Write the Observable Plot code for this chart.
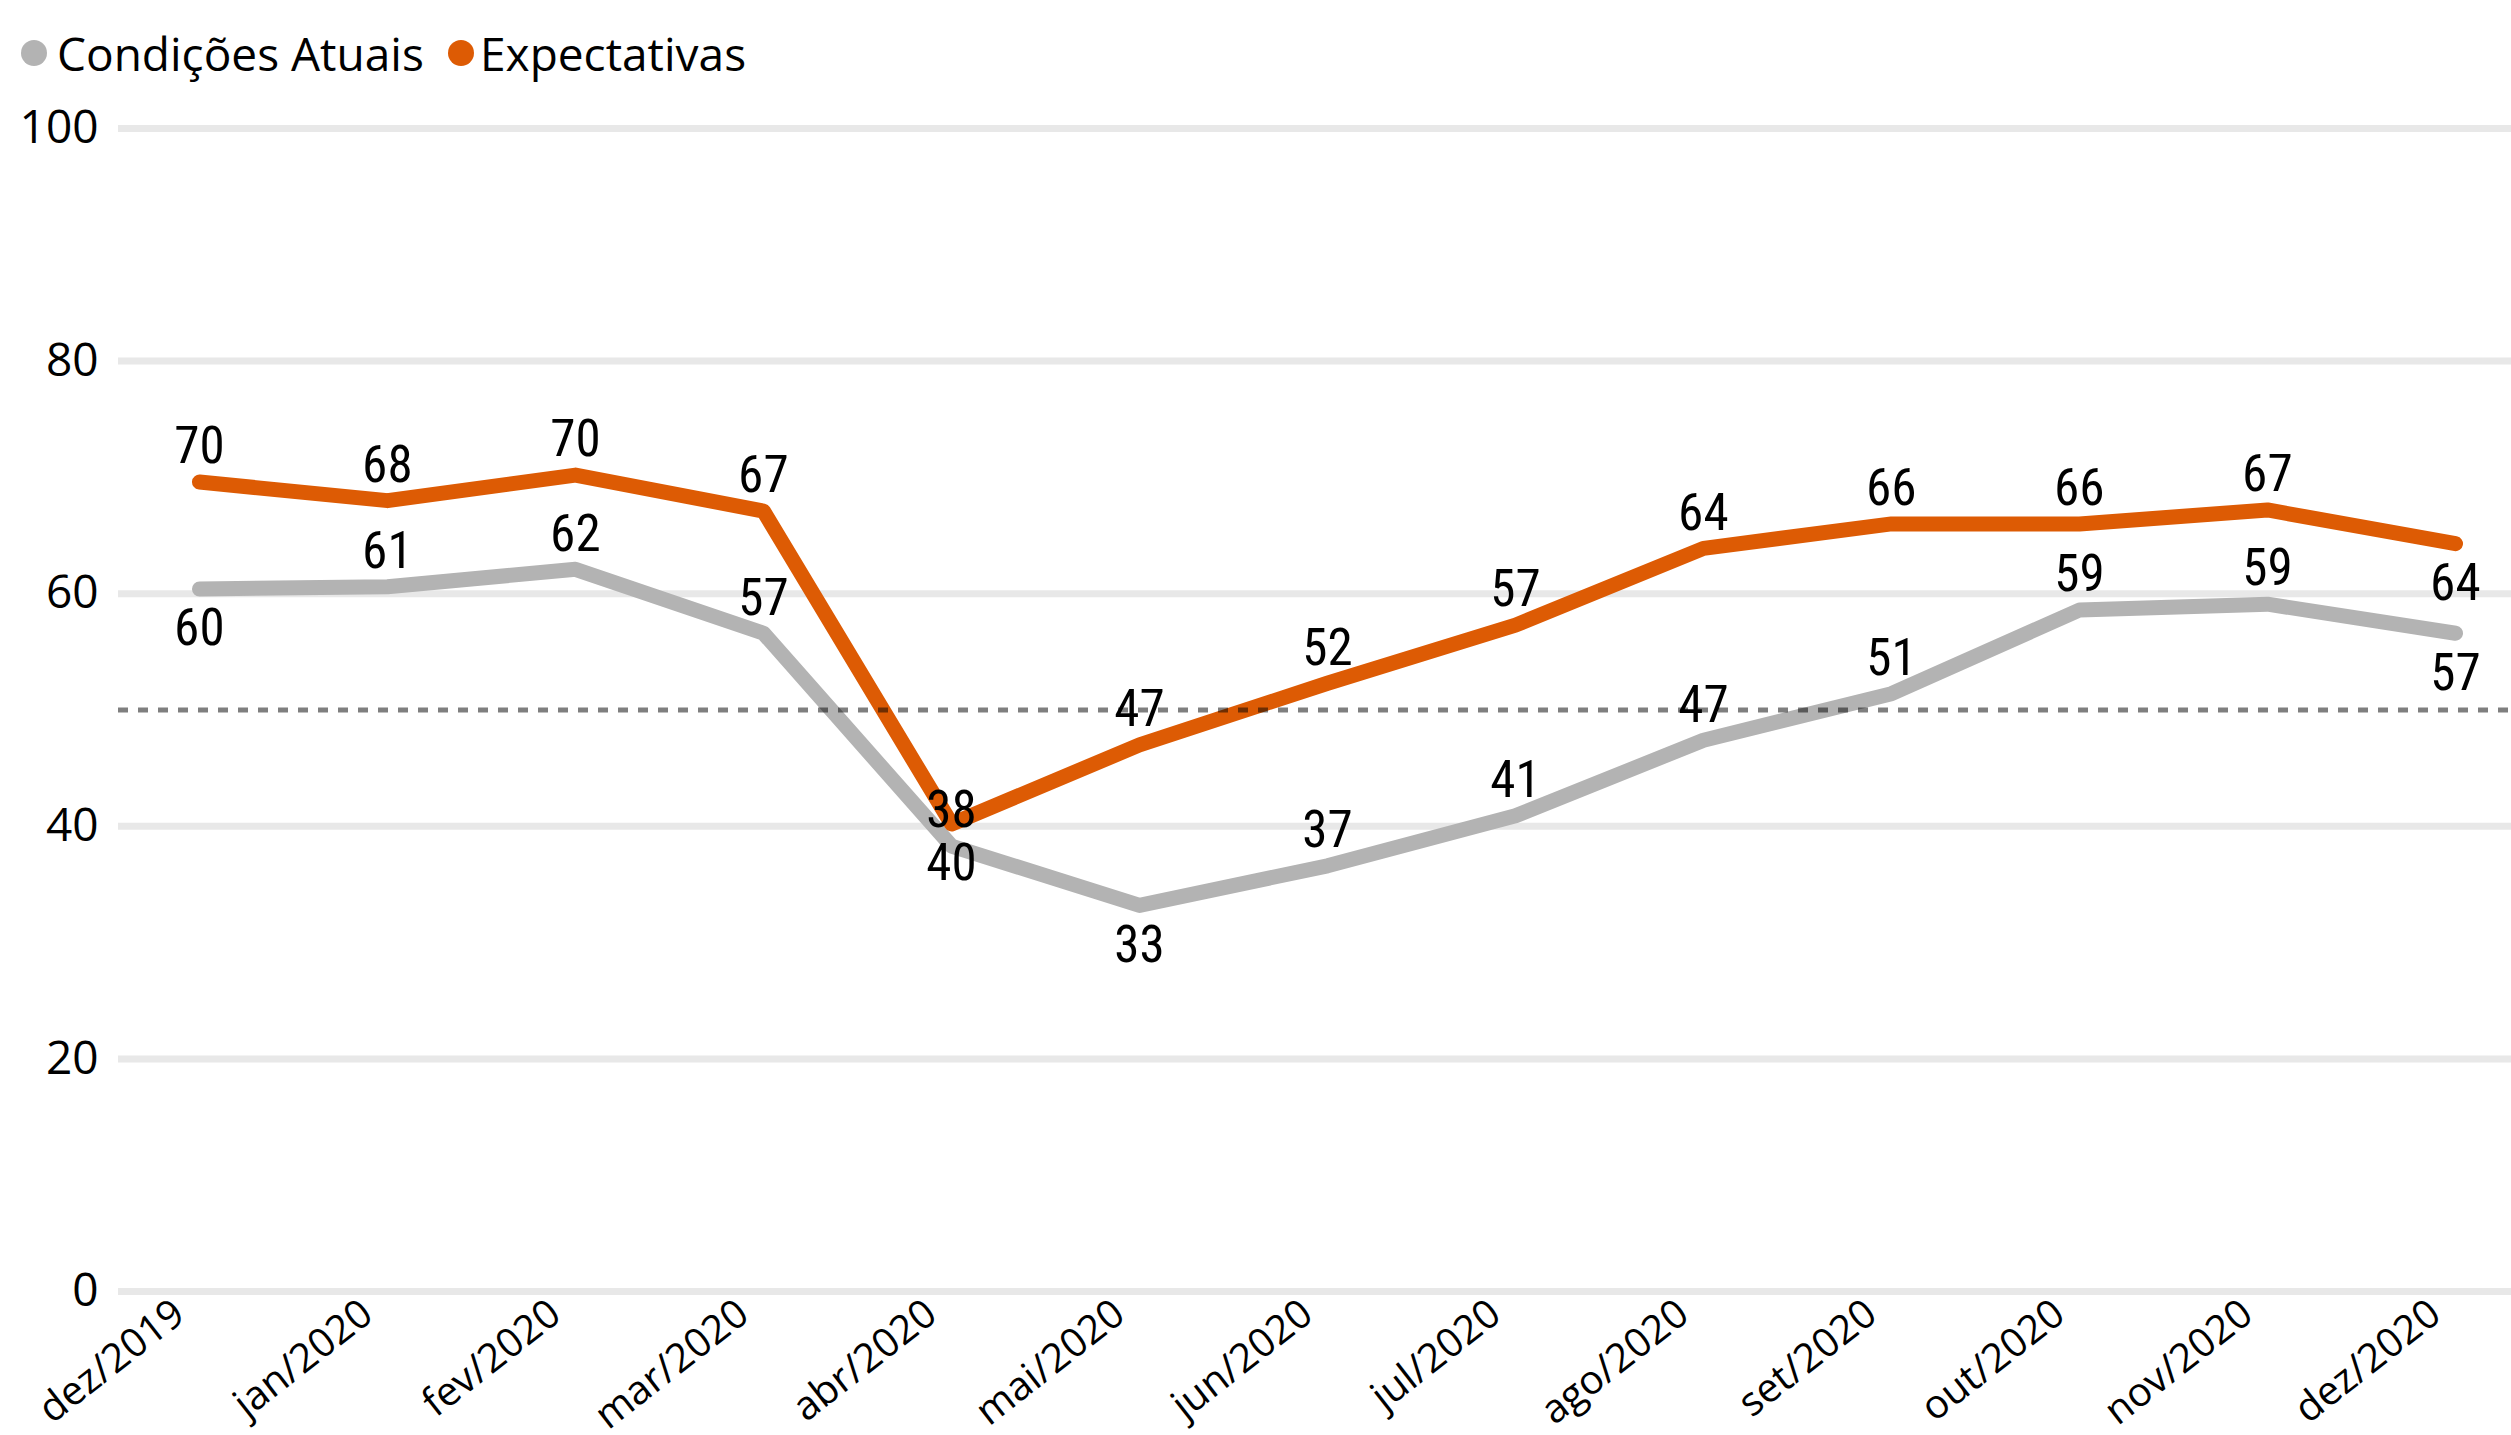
<!DOCTYPE html>
<html>
<head>
<meta charset="utf-8">
<script src="https://cdn.jsdelivr.net/npm/d3@7"></script>
<script src="https://cdn.jsdelivr.net/npm/@observablehq/plot@0.6"></script>
<style>
  html, body { margin: 0; padding: 0; background: #fff; }
  body { width: 2511px; height: 1435px; overflow: hidden; }
  #legend { position: relative; height: 95px; font-family: "Open Sans", sans-serif; font-size: 46px; color: #000; }
  #legend .sw { position: absolute; width: 26px; height: 26px; border-radius: 50%; top: 40px; }
  #legend .lb { position: absolute; top: 20px; line-height: 66px; white-space: nowrap; }
  #chart svg { display: block; overflow: visible; }
</style>
</head>
<body>
<div id="legend"></div>
<div id="chart"></div>
<script>
// ---- data ----
const months = ["dez/2019","jan/2020","fev/2020","mar/2020","abr/2020","mai/2020","jun/2020","jul/2020","ago/2020","set/2020","out/2020","nov/2020","dez/2020"];
const seriesNames = ["Condições Atuais", "Expectativas"];
const condicoes = [60.4, 60.6, 62.1, 56.6, 38.3, 33.2, 36.6, 40.9, 47.4, 51.4, 58.6, 59.1, 56.6];
const expectativas = [69.6, 68.0, 70.2, 67.1, 40.2, 47.0, 52.3, 57.3, 63.9, 66.0, 66.0, 67.2, 64.3];
const yTicks = [0, 20, 40, 60, 80, 100];
const neutral = [50];
// months whose data label sits below the point (label placement)
const condLabelBelow = ["dez/2019", "mai/2020", "dez/2020"];
const expLabelBelow = ["abr/2020", "dez/2020"];

const colors = ["#B3B3B3", "#DD5B04"];

const rows = months.flatMap((m, i) => [
  {month: m, series: seriesNames[0], value: condicoes[i], below: condLabelBelow.includes(m)},
  {month: m, series: seriesNames[1], value: expectativas[i], below: expLabelBelow.includes(m)}
]);

// ---- legend ----
const legend = document.getElementById("legend");
const legendPos = [{sw: 21, lb: 57}, {sw: 448, lb: 480}];
seriesNames.forEach((s, i) => {
  const sw = document.createElement("span");
  sw.className = "sw"; sw.style.left = legendPos[i].sw + "px"; sw.style.background = colors[i];
  const lb = document.createElement("span");
  lb.className = "lb"; lb.style.left = legendPos[i].lb + "px"; lb.textContent = s;
  legend.append(sw, lb);
});

// ---- chart ----
const labelFont = "'Liberation Sans Narrow', 'Roboto Condensed', Roboto, sans-serif";
const chart = Plot.plot({
  width: 2511,
  height: 1340,
  marginLeft: 118,
  marginRight: 0,
  marginTop: 33,
  marginBottom: 144,
  style: {background: "transparent", fontFamily: "'Open Sans', sans-serif", color: "#000", overflow: "visible"},
  x: {type: "point", domain: months, padding: 0, insetLeft: 77, insetRight: 53, label: null},
  y: {domain: [0, 100], label: null},
  color: {domain: seriesNames, range: colors},
  marks: [
    Plot.ruleY(yTicks, {stroke: "#E8E8E8", strokeWidth: 7}),
    Plot.axisY({ticks: yTicks, tickSize: 0, tickPadding: 20, fontSize: 46, label: null}),
    Plot.axisX({tickSize: 0, tickPadding: 17, dx: -20, tickRotate: -38, fontSize: 40, label: null}),
    Plot.line(rows, {x: "month", y: "value", z: "series", stroke: "series", strokeWidth: 15, strokeLinecap: "round", strokeLinejoin: "round"}),
    Plot.ruleY(neutral, {stroke: "#000", strokeOpacity: 0.5, strokeWidth: 5, strokeDasharray: "10,10"}),
    Plot.text(rows.filter(d => !d.below), {x: "month", y: "value", text: d => Math.round(d.value), dy: -35, fontSize: 51, fontFamily: labelFont, fill: "#000"}),
    Plot.text(rows.filter(d => d.below), {x: "month", y: "value", text: d => Math.round(d.value), dy: 40, fontSize: 51, fontFamily: labelFont, fill: "#000"})
  ]
});
document.getElementById("chart").append(chart);
</script>
</body>
</html>
